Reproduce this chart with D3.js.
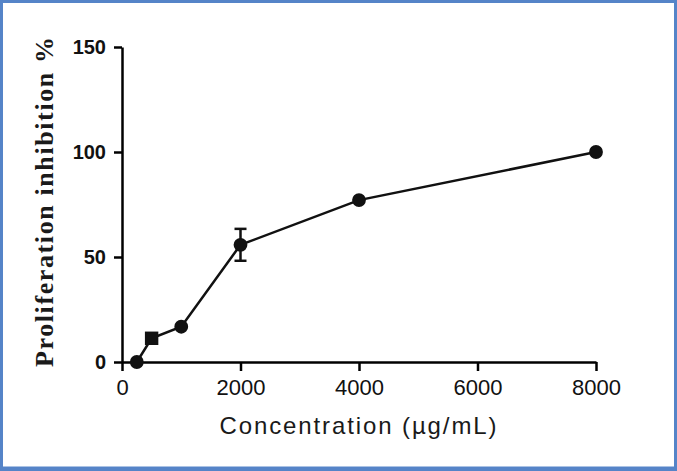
<!DOCTYPE html>
<html>
<head>
<meta charset="utf-8">
<script src="https://cdn.jsdelivr.net/npm/d3@7"></script>
<style>
  html, body { margin: 0; padding: 0; background: #fff; }
  svg { display: block; }
</style>
</head>
<body>
<svg id="chart"></svg>
<script>
// Dose-response: proliferation inhibition vs concentration
const concentrations = [250, 500, 1000, 2000, 4000, 8000];
const inhibition = [0, 11.3, 16.8, 55.8, 77.1, 100];
const errors = [0, 2.2, 0, 7.6, 0, 0];
const markers = ['circle', 'square', 'circle', 'circle', 'circle', 'circle'];
const xTicks = [0, 2000, 4000, 6000, 8000];
const yTicks = [0, 50, 100, 150];

const width = 677, height = 471;
const margin = { left: 122, right: 81, top: 47, bottom: 109 };
const innerWidth = width - margin.left - margin.right;
const innerHeight = height - margin.top - margin.bottom;

const svg = d3.select('#chart')
    .attr('width', width)
    .attr('height', height);

// Blue frame around the figure
svg.append('rect')
    .attr('x', 1.5).attr('y', 1.5)
    .attr('width', width - 3).attr('height', height - 4.5)
    .attr('fill', '#fff')
    .attr('stroke', '#5584c8')
    .attr('stroke-width', 3);
svg.append('rect')
    .attr('x', 0).attr('y', height - 4)
    .attr('width', width).attr('height', 4)
    .attr('fill', '#5584c8');

const g = svg.append('g')
    .attr('transform', `translate(${margin.left},${margin.top})`);

const x = d3.scaleLinear().domain([0, 8000]).range([0, innerWidth]);
const y = d3.scaleLinear().domain([0, 150]).range([innerHeight, 0]);

// X axis
const xAxis = g.append('g')
    .attr('transform', `translate(0,${innerHeight})`)
    .call(d3.axisBottom(x).tickValues(xTicks).tickFormat(d3.format('d'))
        .tickSize(9).tickSizeOuter(0).tickPadding(8))
    .attr('font-family', 'Liberation Sans, Arial, sans-serif')
    .attr('font-size', 22);
xAxis.select('.domain').attr('stroke-width', 2.5);
xAxis.selectAll('.tick line').attr('stroke-width', 2.5);
xAxis.selectAll('.tick text').attr('fill', '#111');

// Y axis
const yAxis = g.append('g')
    .call(d3.axisLeft(y).tickValues(yTicks).tickFormat(d3.format('d'))
        .tickSize(8).tickSizeOuter(0).tickPadding(8))
    .attr('font-family', 'Liberation Sans, Arial, sans-serif')
    .attr('font-size', 20)
    .attr('font-weight', 'bold');
yAxis.select('.domain').attr('stroke-width', 2.5);
yAxis.selectAll('.tick line').attr('stroke-width', 2.5);
yAxis.selectAll('.tick text').attr('fill', '#111');

// Axis titles
svg.append('text')
    .attr('x', 358)
    .attr('y', 434)
    .attr('text-anchor', 'middle')
    .attr('fill', '#1a1a1a')
    .attr('font-family', 'Liberation Sans, Arial, sans-serif')
    .attr('font-size', 24)
    .attr('textLength', 277)
    .attr('lengthAdjust', 'spacing')
    .text('Concentration (µg/mL)');

svg.append('text')
    .attr('transform', 'translate(53,202) rotate(-90)')
    .attr('text-anchor', 'middle')
    .attr('fill', '#1a1a1a')
    .attr('font-family', 'Liberation Serif, Times New Roman, serif')
    .attr('font-weight', 'bold')
    .attr('font-size', 26)
    .attr('textLength', 330)
    .attr('lengthAdjust', 'spacing')
    .text('Proliferation inhibition %');

const data = concentrations.map((c, i) => ({
    c, v: inhibition[i], e: errors[i], m: markers[i]
}));

// Connecting line
g.append('path')
    .datum(data)
    .attr('fill', 'none')
    .attr('stroke', '#111')
    .attr('stroke-width', 2.5)
    .attr('d', d3.line().x(d => x(d.c)).y(d => y(d.v)));

// Error bars
const eb = g.selectAll('.err')
    .data(data.filter(d => d.e > 0))
    .join('g')
    .attr('class', 'err')
    .attr('stroke', '#111')
    .attr('stroke-width', 2.5);
eb.append('line')
    .attr('x1', d => x(d.c)).attr('x2', d => x(d.c))
    .attr('y1', d => y(d.v - d.e)).attr('y2', d => y(d.v + d.e));
eb.append('line')
    .attr('x1', d => x(d.c) - 6).attr('x2', d => x(d.c) + 6)
    .attr('y1', d => y(d.v + d.e)).attr('y2', d => y(d.v + d.e));
eb.append('line')
    .attr('x1', d => x(d.c) - 6).attr('x2', d => x(d.c) + 6)
    .attr('y1', d => y(d.v - d.e)).attr('y2', d => y(d.v - d.e));

// Markers
g.selectAll('.pt')
    .data(data)
    .join('path')
    .attr('class', 'pt')
    .attr('fill', '#111')
    .attr('transform', d => `translate(${x(d.c)},${y(d.v)})`)
    .attr('d', d => d3.symbol()
        .type(d.m === 'square' ? d3.symbolSquare : d3.symbolCircle)
        .size(d.m === 'square' ? 180 : 150)());
</script>
</body>
</html>
